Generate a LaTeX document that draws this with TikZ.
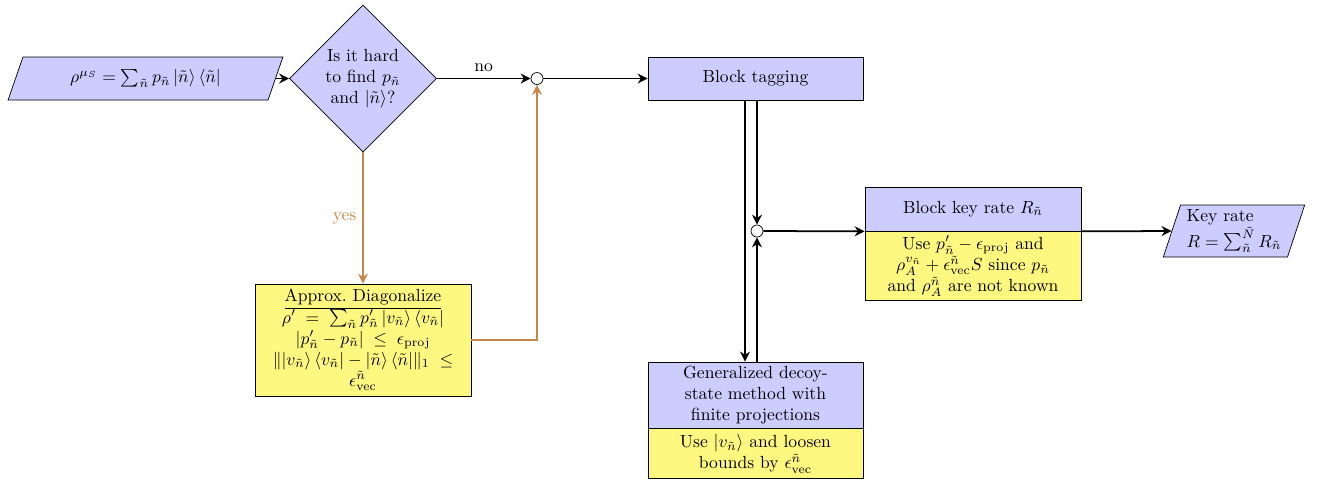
\documentclass[tikz,border=0pt]{standalone}
\usepackage{amsmath}
\usetikzlibrary{arrows.meta,shapes.geometric}
\definecolor{yesline}{RGB}{198,136,72}

\begin{document}
\begin{tikzpicture}[x=1mm,y=1mm,
 proc/.style={draw=black,line width=.4pt,fill=blue!20,align=center,inner sep=.8mm},
 note/.style={proc,fill=yellow!50},
 io/.style={proc,trapezium,trapezium stretches=true,
            trapezium left angle=70,trapezium right angle=110},
 ask/.style={proc,diamond,inner sep=0pt,minimum size=29.4mm},
 junction/.style={circle,draw=black,fill=white,inner sep=0pt,minimum size=2.4mm},
 flow/.style={-{Stealth[length=2mm,width=2mm]},line width=1pt},
 yesflow/.style={flow,draw=yesline}]
\useasboundingbox (0,0) rectangle (263.6,-96.6);

\node[io,minimum width=55mm,minimum height=8.6mm] (input) at (29.1,-15.7)
 {$\rho^{\mu_S} = \sum_{\tilde n} p_{\tilde n}\,|\tilde n\rangle\,\langle\tilde n|$};
\node[ask] (question) at (72.6,-15.7) {Is it hard\\to find $p_{\tilde n}$\\and $|\tilde n\rangle$?};
\node[junction] (joinA) at (107.4,-15.7) {};
\node[proc,minimum width=43mm,minimum height=8.6mm] (tag) at (151.1,-15.7) {Block tagging};

\node[note,minimum width=43.2mm,minimum height=22.4mm] (approx) at (72.6,-68)
 {\underline{Approx.\ Diagonalize}\\
  $\rho' \;=\; \sum_{\tilde n} p'_{\tilde n}\,|v_{\tilde n}\rangle\,\langle v_{\tilde n}|$\\
  $|p'_{\tilde n} - p_{\tilde n}| \;\le\; \epsilon_{\mathrm{proj}}$\\
  $\||v_{\tilde n}\rangle\,\langle v_{\tilde n}| - |\tilde n\rangle\,\langle\tilde n|\|_1 \;\le$\\
  $\epsilon^{\tilde n}_{\mathrm{vec}}$};

\node[junction] (joinB) at (151.4,-46.2) {};
\node[proc,minimum width=43.2mm,minimum height=8.8mm] (ratehead) at (194.6,-41.8) {Block key rate $R_{\tilde n}$};
\node[note,minimum width=43.2mm,minimum height=13.8mm,anchor=north] (ratenote) at (ratehead.south)
 {Use $p'_{\tilde n} - \epsilon_{\mathrm{proj}}$ and\\
  $\rho_A^{v_{\tilde n}} + \epsilon^{\tilde n}_{\mathrm{vec}} S$ since $p_{\tilde n}$\\
  and $\rho_A^{\tilde n}$ are not known};

\node[proc,minimum width=43mm,minimum height=13.2mm] (decoy) at (151.1,-79)
 {Generalized decoy-\\state method with\\finite projections};
\node[note,minimum width=43mm,minimum height=10mm,anchor=north] (decoynote) at (decoy.south)
 {Use $|v_{\tilde n}\rangle$ and loosen\\bounds by $\epsilon^{\tilde n}_{\mathrm{vec}}$};

\node[io,trapezium left angle=72,trapezium right angle=108,align=left,
      minimum width=28.4mm,minimum height=10.4mm] (keyrate) at (246.8,-46.2)
 {Key rate\\$R = \sum_{\tilde n}^{\tilde N} R_{\tilde n}$};

\draw[flow] (input.east) -- (question.west);
\draw[flow] (question.east) -- node[above] {no} (joinA.west);
\draw[flow] (joinA.east) -- (tag.west);
\draw[yesflow] (question.south) -- node[left,text=yesline] {yes} (approx.north);
\draw[yesflow] (approx.east) -| (joinA.south);
\draw[flow] ([xshift=-2.1mm]tag.south) -- ([xshift=-2.1mm]decoy.north);
\draw[flow] (tag.south -| joinB) -- (joinB.north);
\draw[flow] (decoy.north -| joinB) -- (joinB.south);
\draw[flow] (joinB.east) -- (ratehead.south west);
\draw[flow] (ratehead.south east) -- (keyrate.west);
\end{tikzpicture}
\end{document}
